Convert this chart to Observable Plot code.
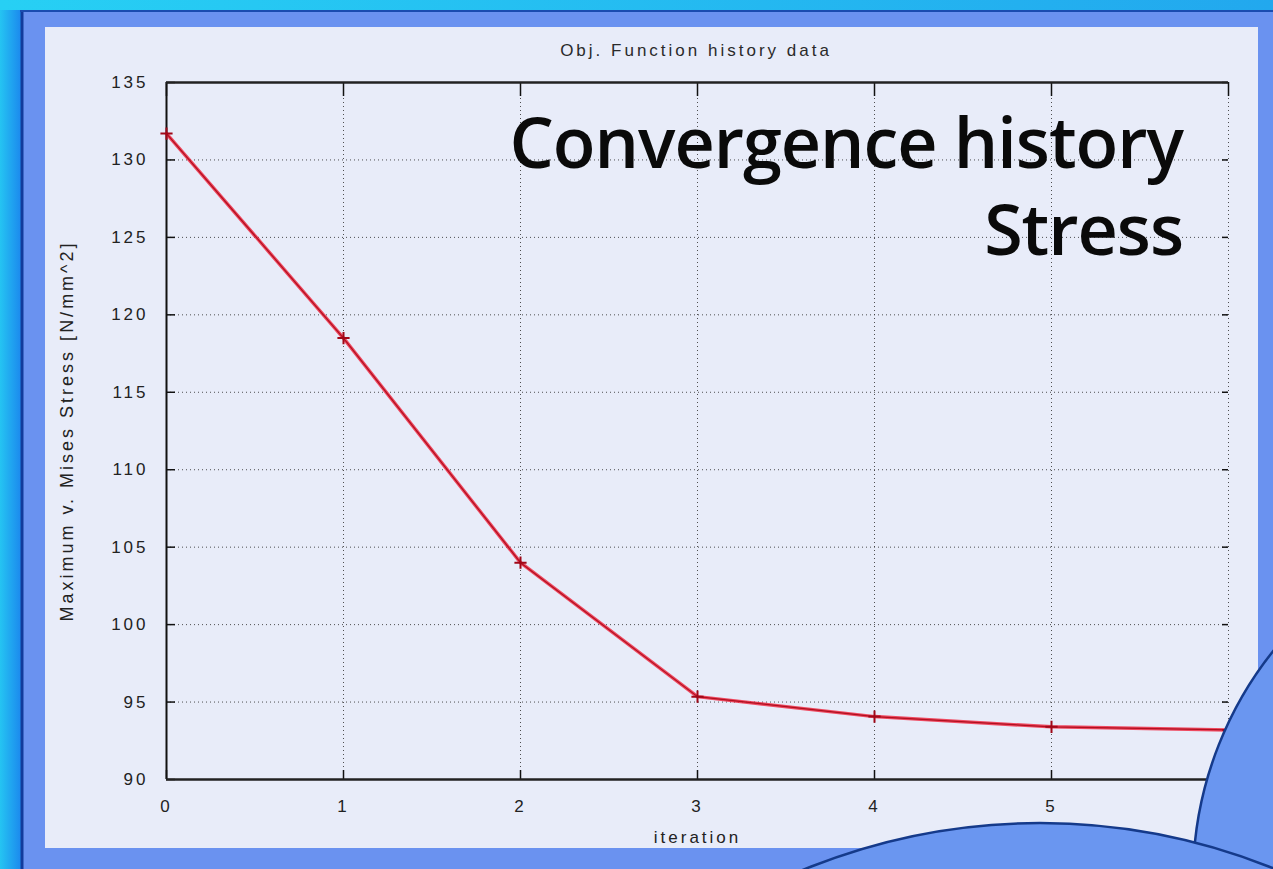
<!DOCTYPE html>
<html>
<head>
<meta charset="utf-8">
<script src="https://cdn.jsdelivr.net/npm/d3@7"></script>
<script src="https://cdn.jsdelivr.net/npm/@observablehq/plot@0.6"></script>
<style>
  html, body { margin: 0; padding: 0; }
  body {
    width: 1273px; height: 869px; overflow: hidden; position: relative;
    background: linear-gradient(90deg, #25c4f2 0px, #1c8cee 20px, #123c9c 21px, #123c9c 23px, #6a92f0 24px, #6a92f0 100%);
  }
  #topband { position: absolute; left: 0; top: 0; width: 1273px; height: 10px; background: linear-gradient(90deg, #27d0f4, #22a8ee); }
  #topline { position: absolute; left: 20px; top: 10px; width: 1253px; height: 2px; background: #1a4cb0; }
  #panel { position: absolute; left: 45px; top: 27px; width: 1213px; height: 821px; background: #e8ecf9; }
  #chart { position: absolute; left: 55px; top: 40px; width: 1190px; height: 808px; }
  #title { position: absolute; left: 0; width: 1392px; top: 41px; text-align: center; font: 17px "Liberation Sans", Arial, sans-serif; letter-spacing: 3px; color: #2a2a2a; }
  .big { position: absolute; right: 90px; font: 600 70px "Open Sans", sans-serif; color: #0a0a0a; letter-spacing: -1px; white-space: nowrap; line-height: normal; }
  svg.circles { position: absolute; left: 0; top: 0; }
</style>
</head>
<body>
<div id="topband"></div>
<div id="topline"></div>
<div id="panel"></div>
<div id="title"></div>
<div id="chart"></div>
<div class="big" style="top:93px">Convergence history</div>
<div class="big" style="top:180px">Stress</div>
<svg class="circles" width="1273" height="869">
  <circle cx="1560" cy="880" r="367" fill="#6a96f0" stroke="#153a8a" stroke-width="2.5"/>
  <circle cx="1040" cy="1446" r="623" fill="#6a96f0" stroke="#153a8a" stroke-width="2.5"/>
</svg>
<script>
const titleText = "Obj. Function history data";
const xLabel = "iteration";
const yLabel = "Maximum v. Mises Stress [N/mm^2]";
const iterations = [0, 1, 2, 3, 4, 5, 6];
const stress = [131.7, 118.5, 104.0, 95.35, 94.06, 93.4, 93.2];
const xTicks = [0, 1, 2, 3, 4, 5, 6];
const xTickLabels = ["0", "1", "2", "3", "4", "5", ""];
const yTicks = [90, 95, 100, 105, 110, 115, 120, 125, 130, 135];

document.getElementById("title").textContent = titleText;

const data = iterations.map((it, i) => ({iteration: it, stress: stress[i]}));

const W = 1190, H = 808, ML = 111, MR = 17, MT = 42, MB = 69;
const PW = W - ML - MR, PH = H - MT - MB;

const chart = Plot.plot({
  width: W, height: H,
  marginLeft: ML, marginRight: MR, marginTop: MT, marginBottom: MB,
  style: {background: "transparent", fontFamily: "Liberation Sans, Arial, sans-serif", fontSize: "17px", color: "#222", letterSpacing: "3px", overflow: "visible"},
  x: {domain: [0, 6], ticks: xTicks, label: xLabel},
  y: {domain: [90, 135], ticks: yTicks, label: yLabel},
  marks: [
    Plot.gridX(xTicks, {stroke: "#333", strokeOpacity: 0.85, strokeDasharray: "1,3"}),
    Plot.gridY(yTicks, {stroke: "#333", strokeOpacity: 0.85, strokeDasharray: "1,3"}),
    Plot.tickY(yTicks, {y: d => d, stroke: "#111", strokeWidth: 1.5, insetRight: PW - 9}),
    Plot.tickY(yTicks, {y: d => d, stroke: "#111", strokeWidth: 1.5, insetLeft: PW - 6}),
    Plot.tickX(xTicks, {x: d => d, stroke: "#111", strokeWidth: 1.5, insetTop: PH - 9}),
    Plot.tickX(xTicks, {x: d => d, stroke: "#111", strokeWidth: 1.5, insetBottom: PH - 14}),
    Plot.ruleX([0], {stroke: "#111", strokeWidth: 2}),
    Plot.ruleY([90], {stroke: "#222", strokeWidth: 2.5}),
    Plot.ruleY([135], {stroke: "#222", strokeWidth: 2.5}),
    Plot.axisX(xTicks, {tickSize: 0, tickPadding: 20, fontSize: 17, fill: "#222",
      tickFormat: (d, i) => xTickLabels[i], label: xLabel, labelAnchor: "center", labelOffset: 63, labelArrow: "none"}),
    Plot.axisY(yTicks, {tickSize: 0, tickPadding: 18, fontSize: 17, fill: "#222",
      label: yLabel, labelAnchor: "center", labelOffset: 106, labelArrow: "none"}),
    Plot.line(data, {x: "iteration", y: "stress", stroke: "#f0203a", strokeWidth: 3.5, strokeOpacity: 0.8}),
    Plot.line(data, {x: "iteration", y: "stress", stroke: "#b01020", strokeWidth: 1.2}),
    Plot.dot(data, {x: "iteration", y: "stress", symbol: "plus", r: 4, stroke: "#a00818", strokeWidth: 2})
  ]
});
chart.querySelectorAll("g[aria-label='y-axis label'] text").forEach(t => t.style.fontSize = "18px");
document.getElementById("chart").appendChild(chart);
</script>
</body>
</html>
